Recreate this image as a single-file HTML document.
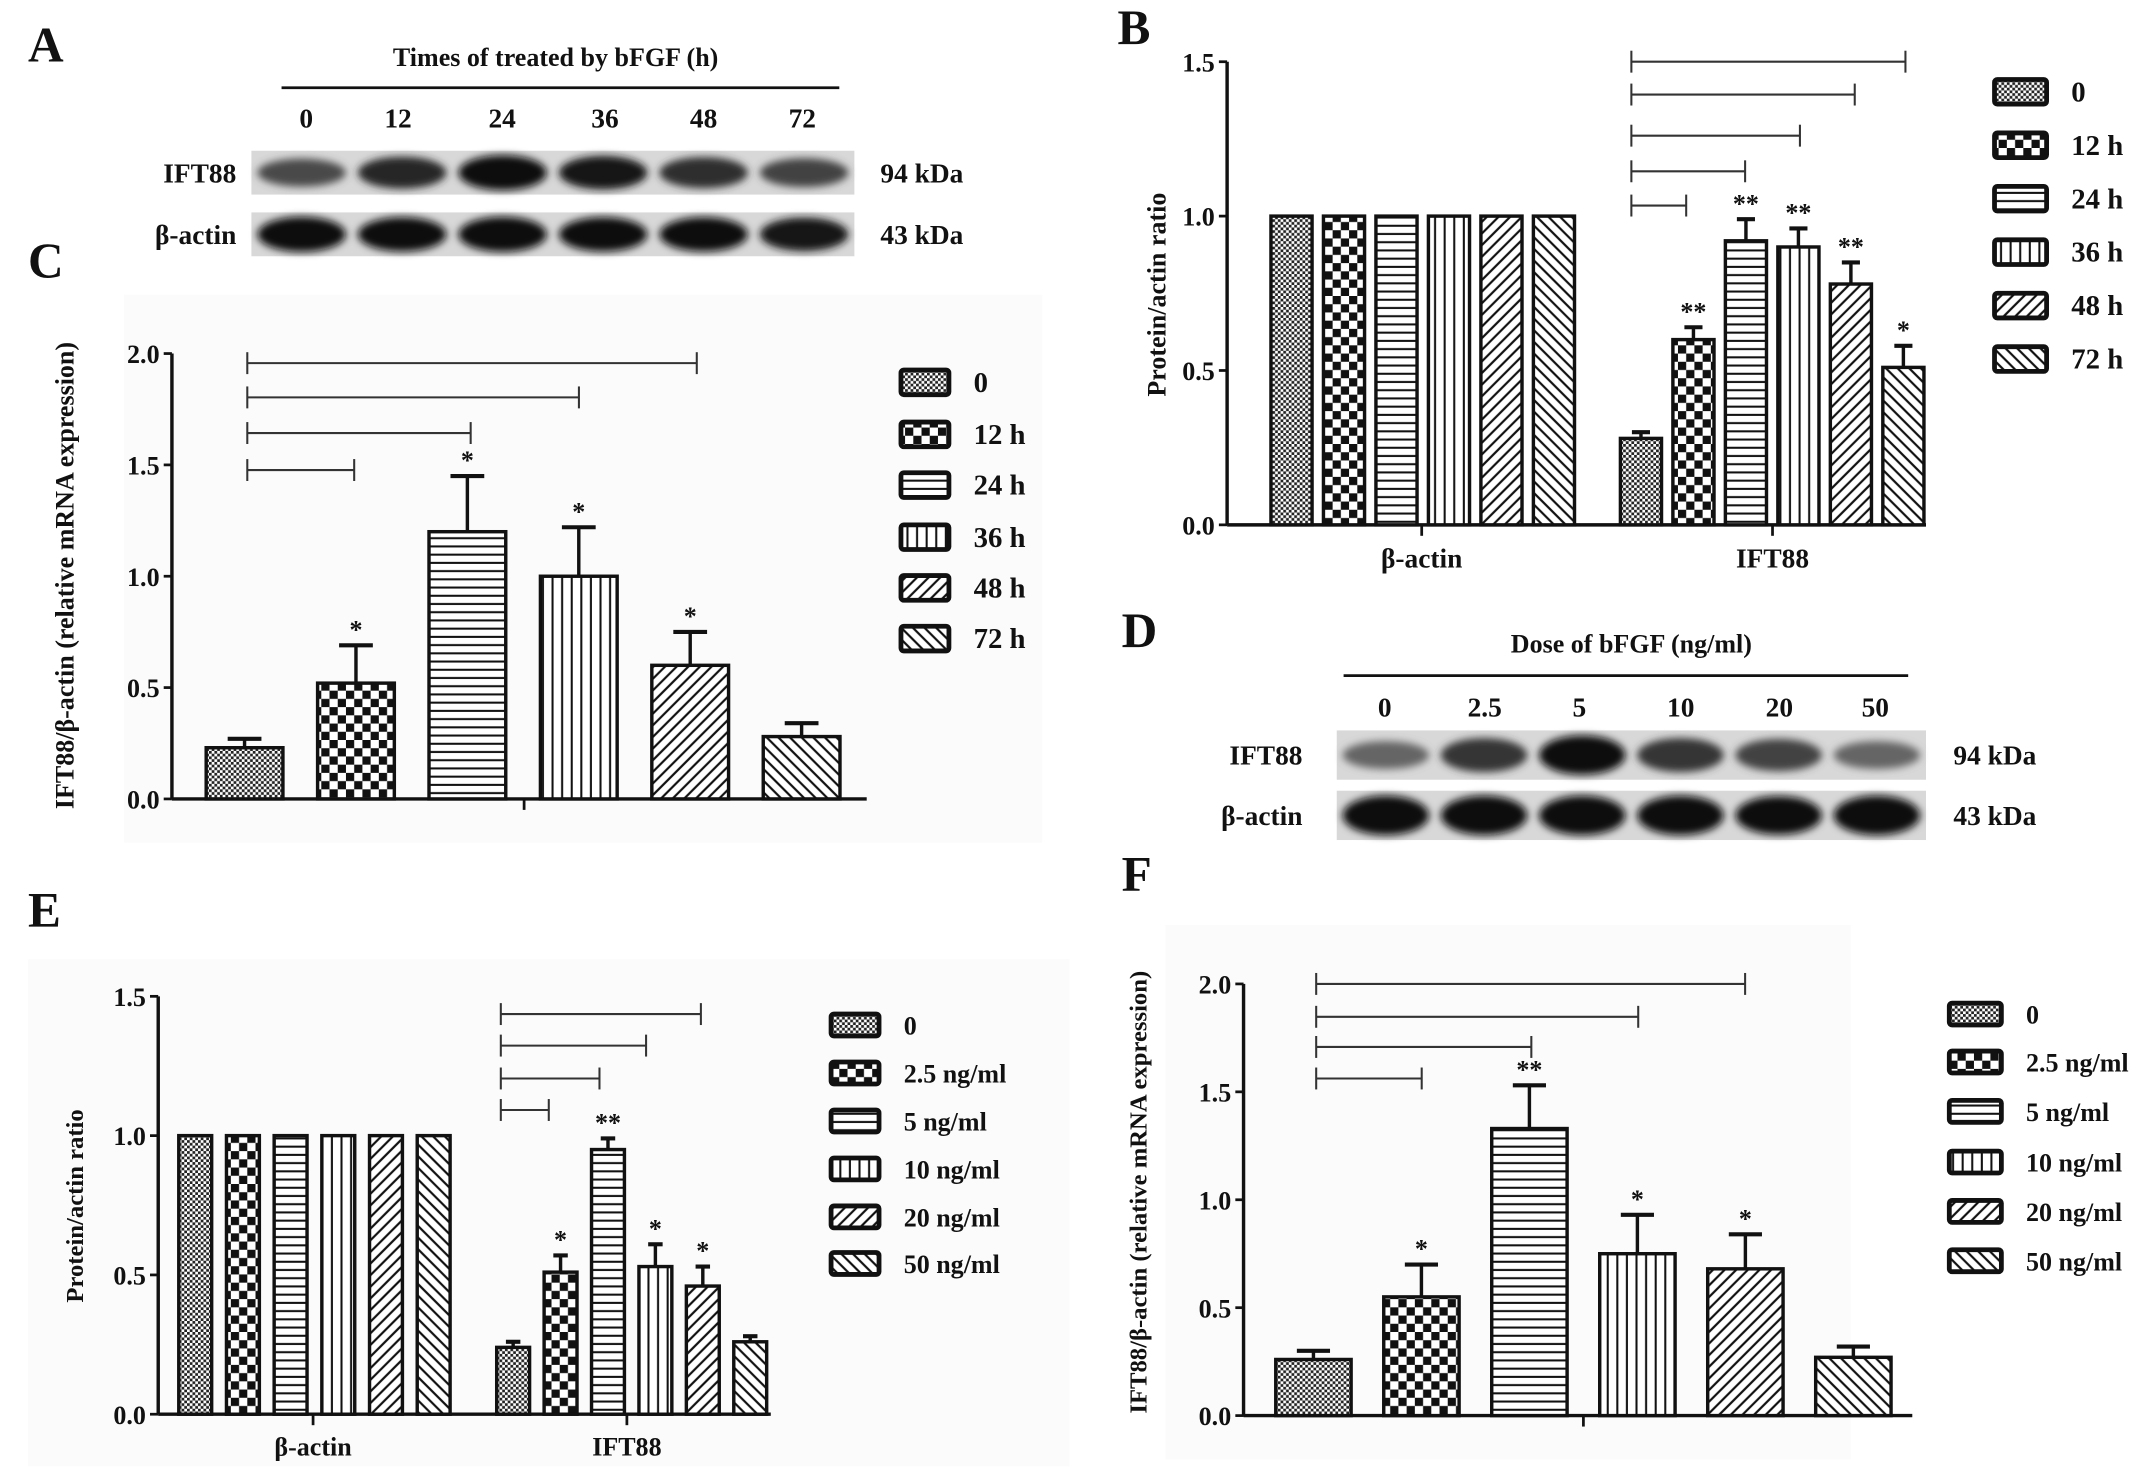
<!DOCTYPE html>
<html><head><meta charset="utf-8"><style>
html,body{margin:0;padding:0;background:#fff}
svg{display:block}
text{font-family:"Liberation Serif",serif;font-weight:bold;fill:#111}
</style></head><body>
<svg id="fig" width="2150" height="1480" viewBox="0 0 1568 1080" xmlns="http://www.w3.org/2000/svg">
<defs>
<pattern id="p0" patternUnits="userSpaceOnUse" width="4" height="4"><rect width="4" height="4" fill="#fff"/><rect width="2" height="2" fill="#222"/><rect x="2" y="2" width="2" height="2" fill="#222"/></pattern>
<pattern id="p1" patternUnits="userSpaceOnUse" width="12" height="12"><rect width="12" height="12" fill="#fff"/><rect width="6" height="6" fill="#111"/><rect x="6" y="6" width="6" height="6" fill="#111"/></pattern>
<pattern id="p2" patternUnits="userSpaceOnUse" width="6" height="6"><rect width="6" height="6" fill="#fff"/><rect y="2" width="6" height="1.5" fill="#111"/></pattern>
<pattern id="p3" patternUnits="userSpaceOnUse" width="7" height="7"><rect width="7" height="7" fill="#fff"/><rect x="3" width="1.5" height="7" fill="#111"/></pattern>
<pattern id="p4" patternUnits="userSpaceOnUse" width="6" height="6" patternTransform="rotate(45)"><rect width="6" height="6" fill="#fff"/><rect x="2" width="1.6" height="6" fill="#111"/></pattern>
<pattern id="p5" patternUnits="userSpaceOnUse" width="6" height="6" patternTransform="rotate(-45)"><rect width="6" height="6" fill="#fff"/><rect x="2" width="1.6" height="6" fill="#111"/></pattern>
<filter id="blur" x="-20%" y="-50%" width="140%" height="200%"><feGaussianBlur stdDeviation="3"/></filter>
</defs>
<rect width="1568" height="1080" fill="#fff"/>
<g id="root"></g>
</svg>
<script>
// ---------- data ----------
const cGroups = ["0","12 h","24 h","36 h","48 h","72 h"];
const cValues = [0.23,0.52,1.20,1.00,0.60,0.28];
const cErrors = [0.04,0.17,0.25,0.22,0.15,0.06];
const cStars = ["","*","*","*","*",""];
const cTicks = [0,0.5,1.0,1.5,2.0];

const bCategories = ["β-actin","IFT88"];
const bActin = [1,1,1,1,1,1];
const bIFT = [0.28,0.60,0.92,0.90,0.78,0.51];
const bIFTErr = [0.02,0.04,0.07,0.06,0.07,0.07];
const bStars = ["","**","**","**","**","*"];
const bTicks = [0,0.5,1.0,1.5];

const eGroups = ["0","2.5 ng/ml","5 ng/ml","10 ng/ml","20 ng/ml","50 ng/ml"];
const eActin = [1,1,1,1,1,1];
const eIFT = [0.24,0.51,0.95,0.53,0.46,0.26];
const eIFTErr = [0.02,0.06,0.04,0.08,0.07,0.02];
const eStars = ["","*","**","*","*",""];
const eTicks = [0,0.5,1.0,1.5];

const fValues = [0.26,0.55,1.33,0.75,0.68,0.27];
const fErrors = [0.04,0.15,0.20,0.18,0.16,0.05];
const fStars = ["","*","**","*","*",""];
const fTicks = [0,0.5,1.0,1.5,2.0];

const timeLabels = ["0","12","24","36","48","72"];
const doseLabels = ["0","2.5","5","10","20","50"];
const blotA_IFT = [0.55,0.8,1.0,0.9,0.75,0.6];
const blotA_act = [1,0.95,1,0.95,0.95,0.9];
const blotD_IFT = [0.35,0.7,1.0,0.7,0.6,0.35];
const blotD_act = [1,1,1,1,0.95,1];

// ---------- helpers ----------
const NS="http://www.w3.org/2000/svg";
const root=document.getElementById('root');
function el(tag,attrs,parent){const e=document.createElementNS(NS,tag);for(const k in attrs)e.setAttribute(k,attrs[k]);(parent||root).appendChild(e);return e;}
function txt(x,y,s,size,anchor,parent,extra){const t=el('text',Object.assign({x:x,y:y,'font-size':size,'text-anchor':anchor||'start'},extra||{}),parent);t.textContent=s;return t;}
const pats=['p0','p1','p2','p3','p4','p5'];

function axis(g,x0,y0,unit,ticks,xEnd){
  const yTop=y0-ticks[ticks.length-1]*unit;
  el('line',{x1:x0,y1:y0,x2:x0,y2:yTop,stroke:'#111','stroke-width':2.5},g);
  el('line',{x1:x0,y1:y0,x2:xEnd,y2:y0,stroke:'#111','stroke-width':2.5},g);
  ticks.forEach(t=>{const y=y0-t*unit;
    el('line',{x1:x0-6,y1:y,x2:x0,y2:y,stroke:'#111','stroke-width':2},g);
    txt(x0-9,y+7,t.toFixed(1),19,'end',g);});
}
function bar(g,cx,w,y0,unit,v,err,pat,star,name){
  const y=y0-v*unit;
  if(err){const ye=y-err*unit;
    el('line',{x1:cx,y1:y,x2:cx,y2:ye,stroke:'#111','stroke-width':2.5},g);
    el('line',{x1:cx-w*0.22,y1:ye,x2:cx+w*0.22,y2:ye,stroke:'#111','stroke-width':3},g);
    if(star)txt(cx,ye-5,star,19,'middle',g);
  }
  const r=el('rect',{x:cx-w/2,y:y,width:w,height:v*unit,fill:'url(#'+pat+')',stroke:'#111','stroke-width':2.5},g);
  
  
}
function bracket(g,x1,x2,y){
  el('line',{x1:x1,y1:y,x2:x2,y2:y,stroke:'#333','stroke-width':1.5},g);
  el('line',{x1:x1,y1:y-8,x2:x1,y2:y+8,stroke:'#333','stroke-width':1.5},g);
  el('line',{x1:x2,y1:y-8,x2:x2,y2:y+8,stroke:'#333','stroke-width':1.5},g);
}
function legend(g,x,ys,labels,bw,bh,size){
  labels.forEach((l,i)=>{
    const r=el('rect',{x:x,y:ys[i]-bh/2,width:bw,height:bh,fill:'url(#'+pats[i]+')',stroke:'#111','stroke-width':3.5,rx:2},g);
    
    
    txt(x+bw+18,ys[i]+7,l,size,'start',g);
  });
}
function ylabel(g,x,y,s,size){txt(x,y,s,size||18,'middle',g,{transform:'rotate(-90 '+x+' '+y+')'});}

// ---------- panel letters ----------
[["A",20,45],["B",815,32],["C",20,202],["D",818,472],["E",20,676],["F",818,650]].forEach(p=>{
  const t=txt(p[1],p[2],p[0],36,'start');
  
  
});

// ---------- blots ----------
function blot(name,title,tcx,ty,lx1,lx2,ly,labels,lxs,lby,bx1,bx2,r1y,r2y,rh,ifts,acts,labX,kdX){
  const g=el('g',{});
  
  
  txt(tcx,ty,title,19,'middle',g);
  el('line',{x1:lx1,y1:ly,x2:lx2,y2:ly,stroke:'#111','stroke-width':2},g);
  labels.forEach((l,i)=>txt(lxs[i],lby,l,20,'middle',g));
  [[r1y,ifts,'IFT88','94 kDa'],[r2y,acts,'β-actin','43 kDa']].forEach(row=>{
    el('rect',{x:bx1,y:row[0],width:bx2-bx1,height:rh,fill:'#d8d8d8'},g);
    const bw=(bx2-bx1)/labels.length;
    row[1].forEach((v,i)=>{
      const c=Math.round(150-v*140);
      el('ellipse',{cx:bx1+bw*(i+0.5),cy:row[0]+rh/2,rx:bw*0.44,ry:rh*0.22+v*rh*0.18,fill:'rgb('+c+','+c+','+c+')',filter:'url(#blur)'},g);
    });
    txt(labX,row[0]+rh/2+7,row[2],20,'end',g);
    txt(kdX,row[0]+rh/2+7,row[3],20,'start',g);
  });
}
blot('blot-a','Times of treated by bFGF (h)',405,48,205,612,64,timeLabels,[223,290,366,441,513,585],93,183,623,110,155,32,blotA_IFT,blotA_act,172,642);
blot('blot-d','Dose of bFGF (ng/ml)',1190,476,980,1392,493,doseLabels,[1010,1083,1152,1226,1298,1368],523,975,1405,533,577,36,blotD_IFT,blotD_act,950,1425);

// ---------- panel C ----------
(function(){
  const g=el('g',{});
  el('rect',{x:90,y:215,width:670,height:400,fill:'#fbfbfb'},g);
  const x0=125,y0=583,unit=162.5;
  axis(g,x0,y0,unit,cTicks,632);
  el('line',{x1:382,y1:y0,x2:382,y2:y0+8,stroke:'#111','stroke-width':2},g);
  cValues.forEach((v,i)=>bar(g,178+i*81.3,56,y0,unit,v,cErrors[i],pats[i],cStars[i],'bar-c-'+i));
  bracket(g,180,508,265);bracket(g,180,422,290);bracket(g,180,343,316);bracket(g,180,258,343);
  legend(g,657,[279,317,354,392,429,466],cGroups,35,18,21);
  ylabel(g,53,420,'IFT88/β-actin (relative mRNA expression)',19);
})();

// ---------- panel B ----------
(function(){
  const g=el('g',{});
  const x0=895,y0=383,unit=225.3;
  axis(g,x0,y0,unit,bTicks,1405);
  el('line',{x1:1037,y1:y0,x2:1037,y2:y0+8,stroke:'#111','stroke-width':2},g);
  el('line',{x1:1293,y1:y0,x2:1293,y2:y0+8,stroke:'#111','stroke-width':2},g);
  bActin.forEach((v,i)=>bar(g,942+i*38.3,30,y0,unit,v,0,pats[i],'','bar-b-actin-'+i));
  bIFT.forEach((v,i)=>bar(g,1197+i*38.3,30,y0,unit,v,bIFTErr[i],pats[i],bStars[i],'bar-b-ift88-'+i));
  txt(1037,414,bCategories[0],20,'middle',g);txt(1293,414,bCategories[1],20,'middle',g);
  bracket(g,1190,1390,45);bracket(g,1190,1353,69);bracket(g,1190,1313,99);bracket(g,1190,1273,125);bracket(g,1190,1230,150);
  legend(g,1455,[67,106,145,184,223,262],cGroups,38,18,21);
  ylabel(g,850,215,'Protein/actin ratio',19);
})();

// ---------- panel E ----------
(function(){
  const g=el('g',{});
  el('rect',{x:20,y:700,width:760,height:370,fill:'#fbfbfb'},g);
  const x0=115,y0=1032,unit=203.3;
  axis(g,x0,y0,unit,eTicks,562);
  el('line',{x1:228,y1:y0,x2:228,y2:y0+8,stroke:'#111','stroke-width':2},g);
  el('line',{x1:457,y1:y0,x2:457,y2:y0+8,stroke:'#111','stroke-width':2},g);
  eActin.forEach((v,i)=>bar(g,142+i*34.8,24,y0,unit,v,0,pats[i],'','bar-e-actin-'+i));
  eIFT.forEach((v,i)=>bar(g,374+i*34.6,24,y0,unit,v,eIFTErr[i],pats[i],eStars[i],'bar-e-ift88-'+i));
  txt(228,1062,bCategories[0],19,'middle',g);txt(457,1062,bCategories[1],19,'middle',g);
  bracket(g,365,511,740);bracket(g,365,471,763);bracket(g,365,437,787);bracket(g,365,400,810);
  legend(g,606,[748,783,818,853,888,922],eGroups,35,16,19);
  ylabel(g,60,880,'Protein/actin ratio',18);
})();

// ---------- panel F ----------
(function(){
  const g=el('g',{});
  el('rect',{x:850,y:675,width:500,height:390,fill:'#fbfbfb'},g);
  const x0=907,y0=1033,unit=157.5;
  axis(g,x0,y0,unit,fTicks,1395);
  el('line',{x1:1155,y1:y0,x2:1155,y2:y0+8,stroke:'#111','stroke-width':2},g);
  fValues.forEach((v,i)=>bar(g,958+i*78.8,55,y0,unit,v,fErrors[i],pats[i],fStars[i],'bar-f-'+i));
  bracket(g,960,1273,718);bracket(g,960,1195,742);bracket(g,960,1117,764);bracket(g,960,1037,787);
  legend(g,1422,[740,775,811,848,884,920],eGroups,38,16,19);
  ylabel(g,836,870,'IFT88/β-actin (relative mRNA expression)',18);
})();
</script>
</body></html>
